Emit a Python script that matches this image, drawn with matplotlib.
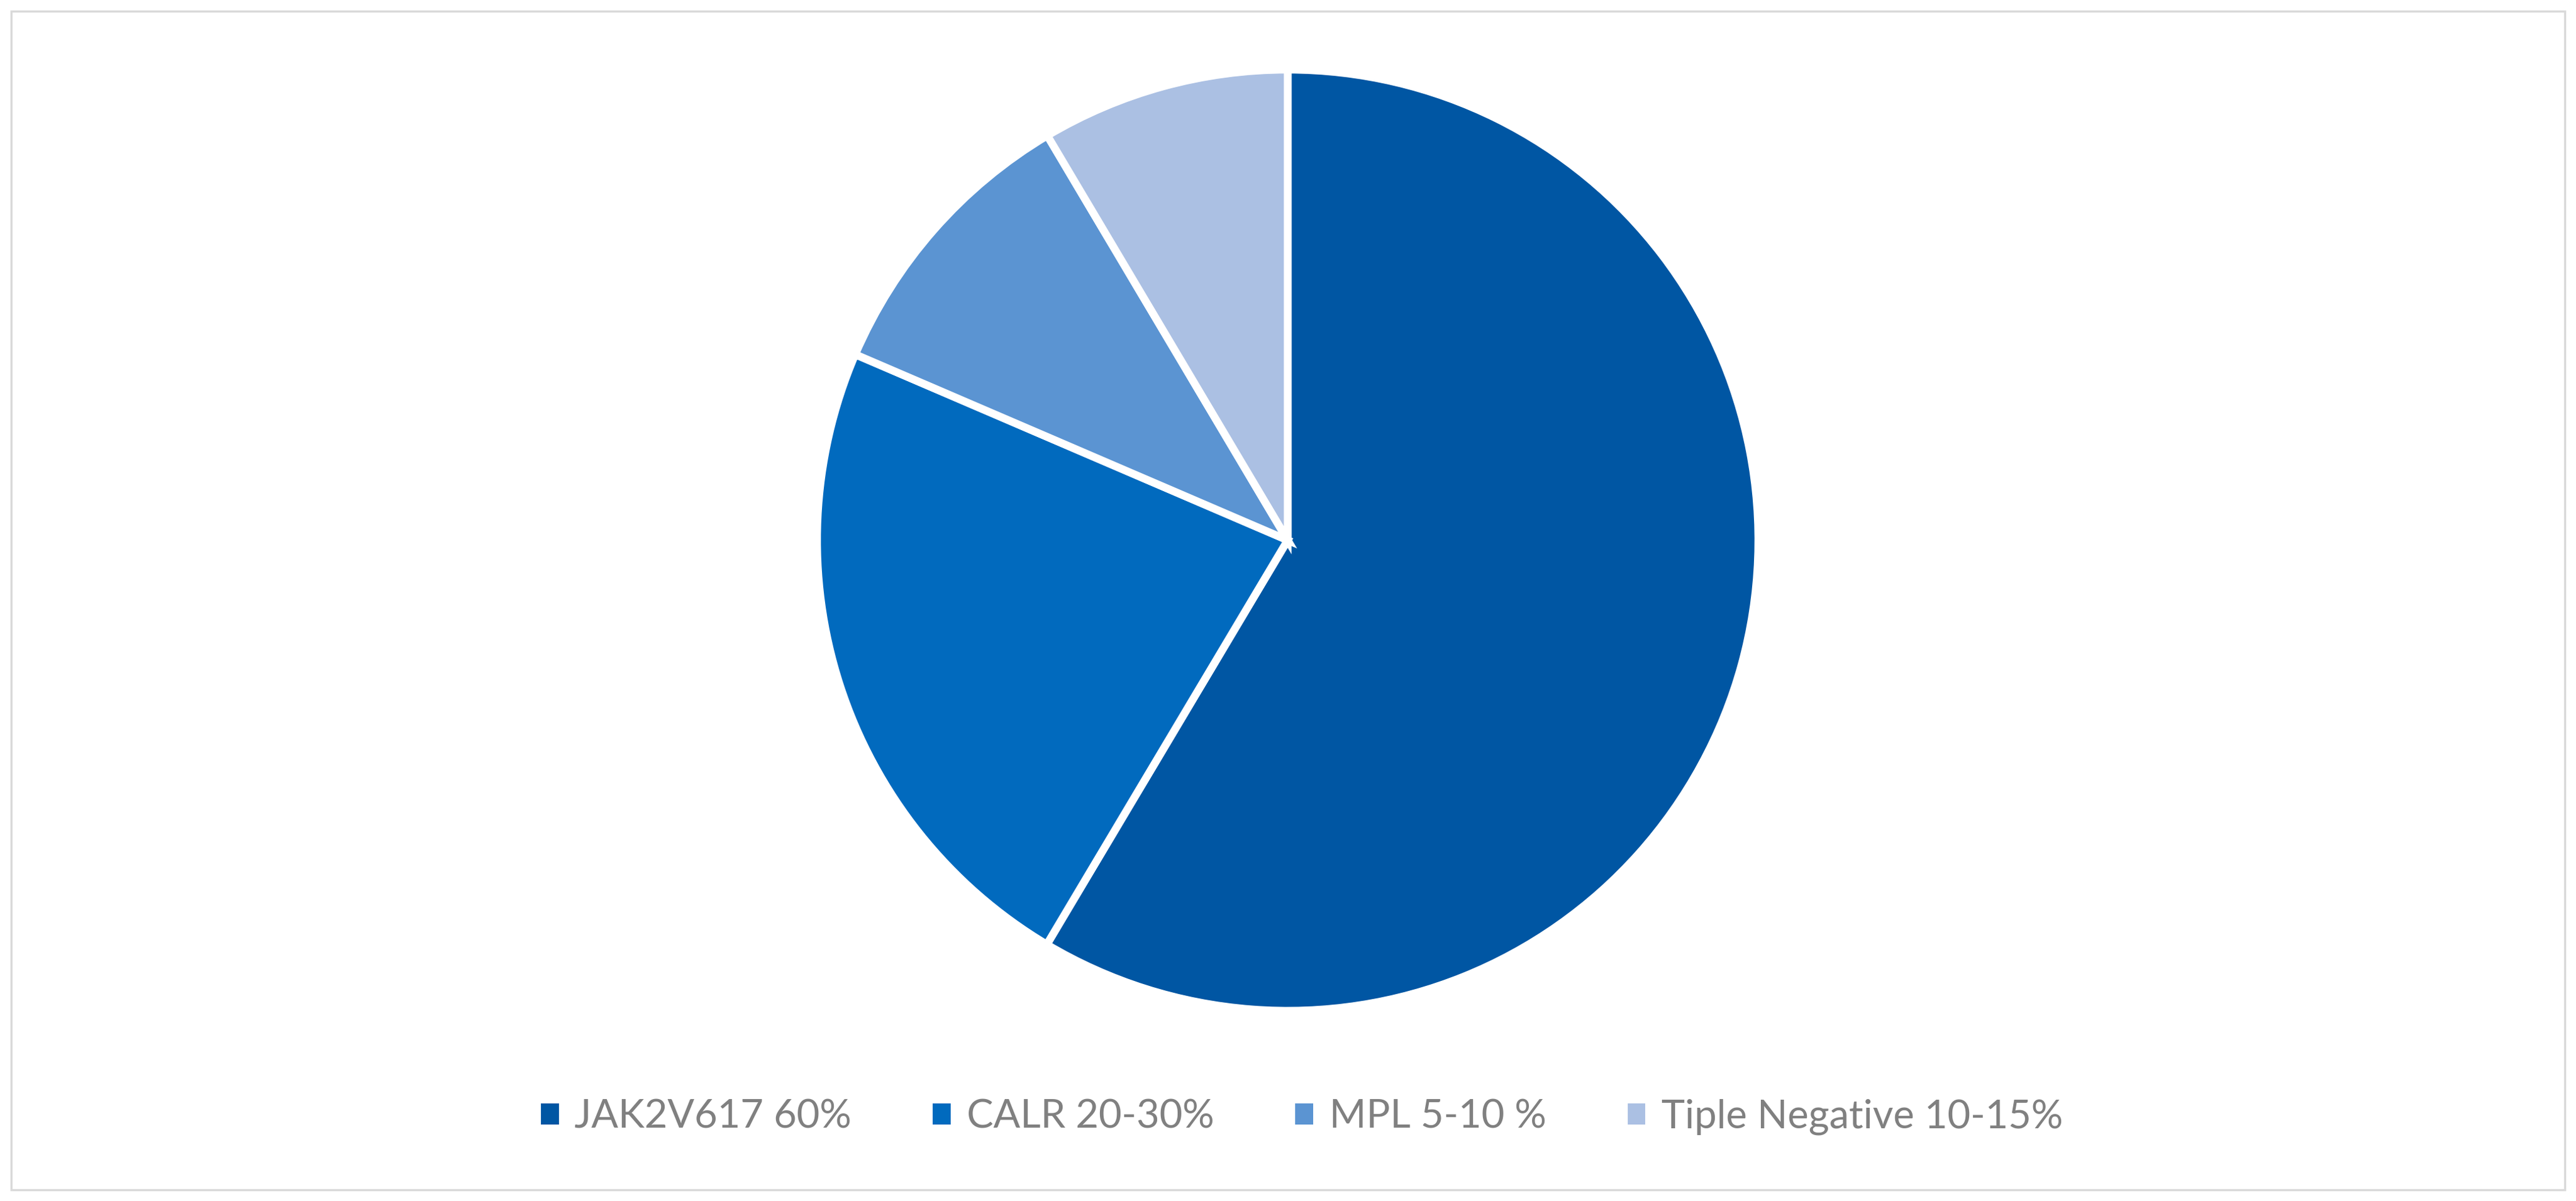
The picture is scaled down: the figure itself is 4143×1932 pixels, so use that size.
import matplotlib
matplotlib.use("Agg")
import matplotlib.pyplot as plt
from matplotlib.patches import Patch, Rectangle

labels = ["JAK2V617 60%", "CALR 20-30%", "MPL 5-10 %", "Tiple Negative 10-15%"]
values = [58.55, 22.91, 10.01, 8.53]
colors = ["#0056A3", "#016ABE", "#5B94D2", "#ABC0E3"]

W, H = 4143, 1932
fig = plt.figure(figsize=(W / 100, H / 100), dpi=100)
fig.patch.set_facecolor("white")

cx, cy, r = 2071, 869, 757
ax = fig.add_axes([(cx - r) / W, (H - cy - r) / H, 2 * r / W, 2 * r / H])
ax.pie(values, colors=colors, startangle=90, counterclock=False,
       wedgeprops=dict(edgecolor="white", linewidth=9))
ax.set_xlim(-1, 1)
ax.set_ylim(-1, 1)
ax.set_aspect("equal")
ax.axis("off")

fs = 46
handles = [Patch(facecolor=c, edgecolor="none") for c in colors]
leg = fig.legend(handles, labels, loc="center", bbox_to_anchor=(0.5054, 0.0699),
                 ncol=4, frameon=False, fontsize=fs, handlelength=0.45,
                 handleheight=0.45, handletextpad=0.4, columnspacing=2.05,
                 prop={"family": "Lato", "size": fs})
for t in leg.get_texts():
    t.set_color("#808080")

fig.add_artist(Rectangle((18 / W, 18 / H), (W - 36) / W, (H - 36) / H,
                         transform=fig.transFigure, fill=False,
                         edgecolor="#D9D9D9", linewidth=2.5))

fig.savefig("out.png", dpi=100)
